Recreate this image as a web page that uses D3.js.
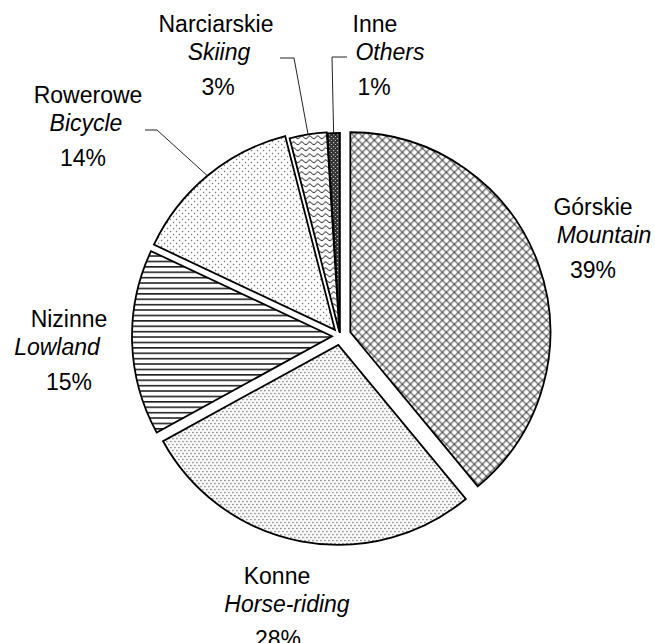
<!DOCTYPE html>
<html lang="pl">
<head>
  <meta charset="utf-8">
  <title>Pie</title>
  <script src="https://d3js.org/d3.v7.min.js"></script>
  <style>
  body {
    margin: 0;
    background: white;
  }
  .label {
    font-family: "Liberation Sans", Arial, sans-serif;
    font-size: 23px;
    fill: black;
    text-anchor: middle;
  }
  .label .en {
    font-style: italic;
  }
  .slice {
    stroke: black;
    stroke-width: 1.8px;
    stroke-linejoin: miter;
  }
  .leader {
    fill: none;
    stroke: #222;
    stroke-width: 1px;
  }
  </style>
</head>
<body>
<script>

// Data
var categories = ["Górskie", "Konne", "Nizinne", "Rowerowe", "Narciarskie", "Inne"];
var englishNames = ["Mountain", "Horse-riding", "Lowland", "Bicycle", "Skiing", "Others"];
var shares = [39, 28, 15, 14, 3, 1];
var percentLabels = ["39%", "28%", "15%", "14%", "3%", "1%"];

// Display constants
var width = 655;
var height = 643;
var cx = 340, cy = 336;
var radius = 200;

// how far each slice is pulled out of the pie
var explode = [11, 9, 8, 8, 4, 3];
var patternIds = ["p-diamond", "p-dots", "p-hlines", "p-sparse", "p-wave", "p-dark"];

// label placement: x centre, first baseline, shift of italic line, shift of percent line
var labelPos = [
  {x: 593, y: 215, dxEn: 11, dxPct: 0},
  {x: 277, y: 584, dxEn: 10, dxPct: 1},
  {x: 69,  y: 327, dxEn: -12, dxPct: 0},
  {x: 88,  y: 103, dxEn: -2, dxPct: -5},
  {x: 216, y: 32,  dxEn: 3, dxPct: 2},
  {x: 375, y: 32,  dxEn: 15, dxPct: -1}
];

// leader lines: elbow point and end of horizontal stub (only for small slices)
var leaders = [null, null, null,
  {ex: 157, ey: 130, tx: 145},
  {ex: 294, ey: 58, tx: 280},
  {ex: 332, ey: 57, tx: 347}
];

var svg = d3.select("body")
  .append("svg")
  .attr("width", width)
  .attr("height", height);

var defs = svg.append("defs");

// Górskie - outlined diamonds
var p = defs.append("pattern").attr("id", "p-diamond")
  .attr("patternUnits", "userSpaceOnUse").attr("width", 8).attr("height", 8);
p.append("rect").attr("width", 8).attr("height", 8).attr("fill", "white");
p.append("path").attr("d", "M-1,-1L9,9M9,-1L-1,9")
  .attr("stroke", "#444").attr("stroke-width", 1.1);

// Konne - dense dots
p = defs.append("pattern").attr("id", "p-dots")
  .attr("patternUnits", "userSpaceOnUse").attr("width", 4).attr("height", 6);
p.append("rect").attr("width", 4).attr("height", 6).attr("fill", "white");
p.append("rect").attr("x", 0).attr("y", 0).attr("width", 1.3).attr("height", 1.3).attr("fill", "#555");
p.append("rect").attr("x", 2).attr("y", 3).attr("width", 1.3).attr("height", 1.3).attr("fill", "#555");

// Nizinne - horizontal lines
p = defs.append("pattern").attr("id", "p-hlines")
  .attr("patternUnits", "userSpaceOnUse").attr("width", 8).attr("height", 5.4);
p.append("rect").attr("width", 8).attr("height", 5.4).attr("fill", "white");
p.append("rect").attr("y", 0).attr("width", 8).attr("height", 1.6).attr("fill", "#222");

// Rowerowe - sparse dots
p = defs.append("pattern").attr("id", "p-sparse")
  .attr("patternUnits", "userSpaceOnUse").attr("width", 6).attr("height", 6);
p.append("rect").attr("width", 6).attr("height", 6).attr("fill", "white");
p.append("rect").attr("x", 0).attr("y", 0).attr("width", 1.2).attr("height", 1.2).attr("fill", "#555");
p.append("rect").attr("x", 3).attr("y", 3).attr("width", 1.2).attr("height", 1.2).attr("fill", "#555");

// Narciarskie - waves
p = defs.append("pattern").attr("id", "p-wave")
  .attr("patternUnits", "userSpaceOnUse").attr("width", 8).attr("height", 6);
p.append("rect").attr("width", 8).attr("height", 6).attr("fill", "white");
p.append("path").attr("d", "M0,4 Q2,0 4,3 T8,4")
  .attr("fill", "none").attr("stroke", "#222").attr("stroke-width", 1);

// Inne - dark check
p = defs.append("pattern").attr("id", "p-dark")
  .attr("patternUnits", "userSpaceOnUse").attr("width", 4).attr("height", 4);
p.append("rect").attr("width", 4).attr("height", 4).attr("fill", "#333");
p.append("rect").attr("x", 1).attr("y", 1).attr("width", 1.2).attr("height", 1.2).attr("fill", "#ccc");
p.append("rect").attr("x", 3).attr("y", 3).attr("width", 1.2).attr("height", 1.2).attr("fill", "#ccc");

var pie = d3.pie().sort(null).value(function(d) { return d; });
var arcs = pie(shares);

var arc = d3.arc().innerRadius(0).outerRadius(radius);

function offset(d, i) {
  var mid = (d.startAngle + d.endAngle) / 2;
  return [cx + explode[i] * Math.sin(mid), cy - explode[i] * Math.cos(mid)];
}

var slices = svg.append("g").attr("class", "slices");

slices.selectAll("path")
  .data(arcs)
  .enter().append("path")
  .attr("class", "slice")
  .attr("transform", function(d, i) {
    var o = offset(d, i);
    return "translate(" + o[0] + "," + o[1] + ")";
  })
  .attr("fill", function(d, i) { return "url(#" + patternIds[i] + ")"; })
  .attr("d", arc);

// leader lines from slice edge to label
arcs.forEach(function(d, i) {
  var l = leaders[i];
  if (!l) return;
  var o = offset(d, i);
  var mid = (d.startAngle + d.endAngle) / 2;
  var px = o[0] + radius * Math.sin(mid);
  var py = o[1] - radius * Math.cos(mid);
  svg.append("path")
    .attr("class", "leader")
    .attr("d", "M" + px + "," + py + "L" + l.ex + "," + l.ey + "L" + l.tx + "," + l.ey);
});

// labels
var labels = svg.append("g");
categories.forEach(function(name, i) {
  var pos = labelPos[i];
  var t = labels.append("text").attr("class", "label");
  t.append("tspan").attr("x", pos.x).attr("y", pos.y).text(name);
  t.append("tspan").attr("class", "en").attr("x", pos.x + pos.dxEn).attr("y", pos.y + 28).text(englishNames[i]);
  t.append("tspan").attr("x", pos.x + pos.dxPct).attr("y", pos.y + 63).text(percentLabels[i]);
});

</script>
</body>
</html>
